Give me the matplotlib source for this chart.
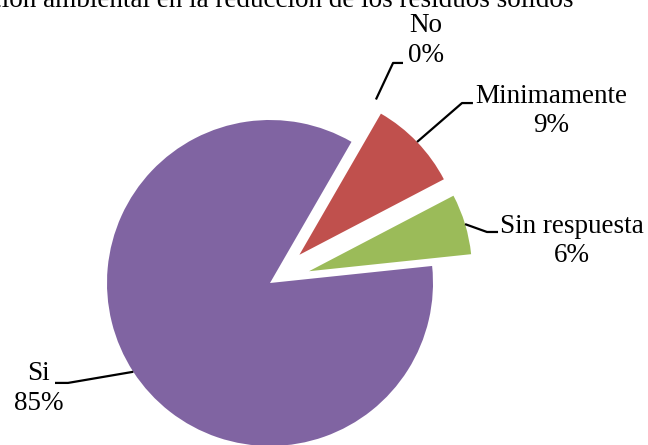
import numpy as np
import matplotlib.pyplot as plt

categories = ["No", "Minimamente", "Sin respuesta", "Si"]
percentages = [0, 9, 6, 85]
colors = ["#4F81BD", "#C0504D", "#9BBB59", "#8064A2"]
explode = [0.25, 0.25, 0.25, 0]

title = "Educación ambiental en la reducción de los residuos sólidos"

# label text anchors (axes units) and elbow points for the leader lines
label_pos = {"No": (0.957, 1.49), "Minimamente": (1.724, 1.055),
             "Sin respuesta": (1.853, 0.258), "Si": (-1.42, -0.647)}
elbows = {"No": [(0.755, 1.35), (0.816, 1.35)],
          "Minimamente": [(1.178, 1.104), (1.245, 1.104)],
          "Sin respuesta": [(1.331, 0.313), (1.399, 0.313)],
          "Si": [(-1.239, -0.613), (-1.319, -0.613)]}

plt.rcParams['font.family'] = ['Liberation Serif', 'DejaVu Serif']

fig = plt.figure(figsize=(6.48, 4.45), dpi=100)
ax = fig.add_axes([0, 0, 1, 1])

wedges, _ = ax.pie(percentages, colors=colors, explode=explode, startangle=60,
                   counterclock=False, radius=1.0, center=(0, 0),
                   wedgeprops=dict(linewidth=0))

ax.set_xlim(-270 / 163, (648 - 270) / 163)
ax.set_ylim(-(445 - 283) / 163, 283 / 163)
ax.set_aspect('auto')
ax.axis('off')

for w, name, pct in zip(wedges, categories, percentages):
    theta = np.deg2rad((w.theta1 + w.theta2) / 2)
    r = 1.0
    if name == "No":
        theta = np.deg2rad(w.theta1)
        r = 1.05
    cx, cy = w.center
    # point on (or just outside) the outer arc of the wedge
    px = cx + r * np.cos(theta)
    py = cy + r * np.sin(theta)
    pts = [(px, py)] + elbows[name]
    xs, ys = zip(*pts)
    ax.plot(xs, ys, color="black", lw=1.6, solid_capstyle='butt')
    tx, ty = label_pos[name]
    ax.text(tx, ty, f"{name}\n{pct}%", ha='center', va='center',
            fontsize=19.5, linespacing=1.25)

fig.text(573 / 648, 1 - 7 / 445, title, ha='right', va='baseline',
         fontsize=19.5)

fig.savefig("out.png", dpi=100)
